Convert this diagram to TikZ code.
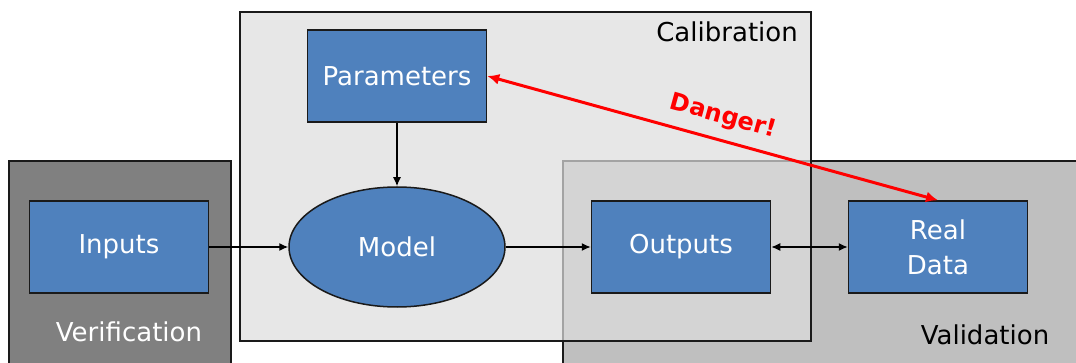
\documentclass[tikz,border=0pt]{standalone}
\usepackage{fontspec}
\setmainfont{DejaVu Sans}
\usetikzlibrary{arrows.meta,shapes.geometric}
\definecolor{boxblue}{HTML}{4F81BD}
\definecolor{edgecol}{HTML}{1A1A1A}
\definecolor{dangerred}{HTML}{FF0000}
\tikzset{
  region/.style={draw=edgecol, line width=1.5pt},
  bluebox/.style={draw=edgecol, line width=1.5pt, fill=boxblue, text=white, minimum width=179pt, minimum height=92pt, inner sep=0pt, font=\fontsize{26}{30}\selectfont, align=center},
  ellnode/.style={draw=edgecol, line width=1.5pt, fill=boxblue, text=white, ellipse, minimum width=216pt, minimum height=120pt, inner sep=0pt, font=\fontsize{26}{30}\selectfont},
  regionlabel/.style={font=\fontsize{26}{30}\selectfont, inner sep=0pt},
  conn/.style={draw=black, line width=1.4pt, -{Latex[length=9pt,width=8pt]}},
  biconn/.style={draw=black, line width=1.4pt, {Latex[length=9pt,width=8pt]}-{Latex[length=9pt,width=8pt]}},
  danger/.style={draw=dangerred, line width=3pt, {Latex[length=12pt,width=11pt]}-{Latex[length=12pt,width=11pt]}}
}
\begin{document}
\begin{tikzpicture}[x=1pt,y=-1pt]
\useasboundingbox (0,0) rectangle (1076,363);
% regions
\fill[white] (0,0) rectangle (1076,363);
\draw[region, fill=black!50] (9,161) rectangle (231,370);
\draw[region, fill=black!25] (563,161) rectangle (1085,370);
\draw[region, fill=black!13, fill opacity=0.7] (240,12) rectangle (811,341);
\node[regionlabel, white] (verlab) at (129,332) {Verification};
\node[regionlabel, anchor=east] (callab) at (798,32) {Calibration};
\node[regionlabel] (vallab) at (985,335) {Validation};
% nodes
\node[bluebox] (inputs) at (119,247) {Inputs};
\node[bluebox] (params) at (397,76) {Parameters};
\node[ellnode] (model) at (397,247) {Model};
\node[bluebox] (outputs) at (681,247) {Outputs};
\node[bluebox] (real) at (938,247) {Real\\[5pt]Data};
% connectors
\draw[conn] (params) -- (model);
\draw[conn] (inputs) -- (model);
\draw[conn] (model) -- (outputs);
\draw[biconn] (outputs) -- (real);
\draw[danger] (params.east) -- node[pos=0.51, above=7pt, sloped, text=dangerred, font=\bfseries\fontsize{24}{27}\selectfont] (dlab) {Danger!} (real.north);
\end{tikzpicture}
\end{document}
